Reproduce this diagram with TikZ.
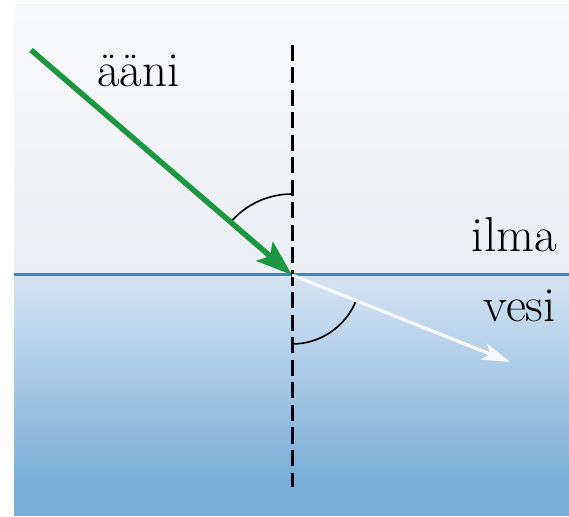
\documentclass[tikz,border=0pt]{standalone}
\usetikzlibrary{arrows.meta}
\definecolor{airtop}{RGB}{248,249,250}
\definecolor{airbot}{RGB}{234,238,242}
\definecolor{watertop}{RGB}{214,228,243}
\definecolor{waterbot}{RGB}{122,174,216}
\definecolor{surf}{RGB}{60,135,198}
\definecolor{soundgreen}{RGB}{28,150,64}
\definecolor{refr}{RGB}{246,249,253}
\tikzset{
  lbl/.style={font=\fontsize{49}{58}\selectfont, inner sep=0pt, text=black},
  normalline/.style={line width=3pt, dash pattern=on 16pt off 6.5pt},
  anglearc/.style={line width=1.6pt, black},
}
\begin{document}
\begin{tikzpicture}[x=1pt,y=1pt]
\useasboundingbox (0,0) rectangle (569,516);
% media
\shade[top color=airtop, bottom color=airbot] (14,241) rectangle (569,511);
\shade[top color=watertop, bottom color=waterbot] (14,36) rectangle (569,241);
\fill[waterbot] (14,0) rectangle (569,36.5);
% coordinates
\coordinate (O) at (292,241);
\coordinate (S) at (31,466);
\coordinate (R) at (510,154);
\coordinate (Ntop) at (292,471);
\coordinate (Nbot) at (292,29);
\coordinate (Lft) at (14,241);
\coordinate (Rgt) at (569,241);
% surface
\draw[surf, line width=3pt] (Lft) -- (Rgt);
% normal
\draw[normalline] (Ntop) -- (Nbot);
% angle arcs
\draw[anglearc] ([shift={(90:81)}]O) arc[start angle=90, end angle=139.3, radius=81];
\draw[anglearc] ([shift={(270:69)}]O) arc[start angle=270, end angle=338.2, radius=69];
% rays
\draw[refr, line width=3.2pt, -{Stealth[length=28pt,width=17pt,inset=7pt]}] (O) -- (R);
\draw[soundgreen, line width=5.5pt, -{Stealth[length=36pt,width=25pt,inset=7pt]}] (S) -- (O);
% labels
\node[lbl, anchor=base west] (aani) at (97,429) {ääni};
\node[lbl, anchor=base east] (ilma) at (557,264) {ilma};
\node[lbl, anchor=base east] (vesi) at (556,194) {vesi};
\end{tikzpicture}
\end{document}
